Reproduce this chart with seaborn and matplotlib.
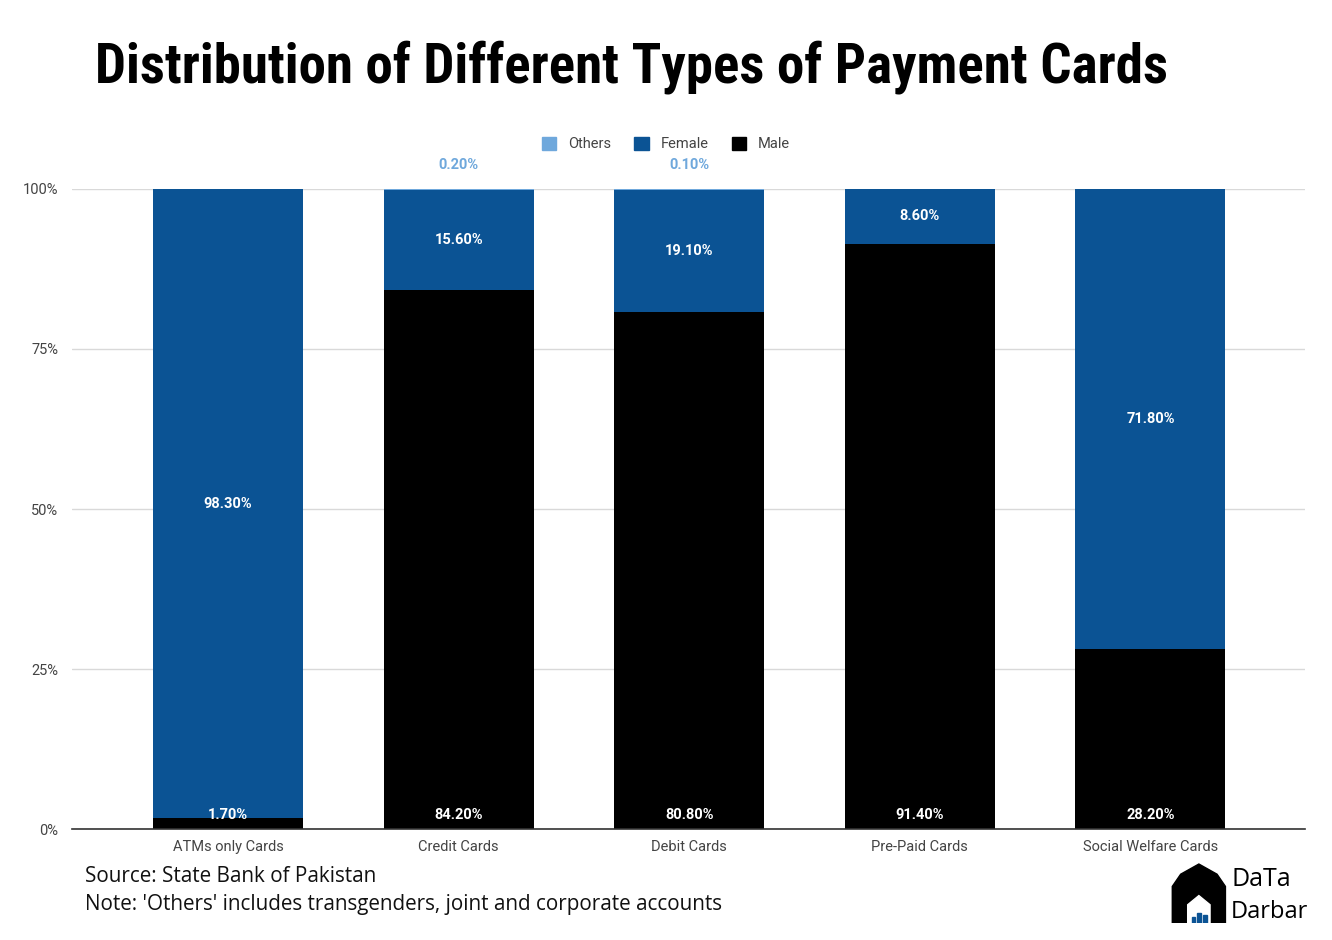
import pandas as pd
import matplotlib.pyplot as plt
import matplotlib.patches as mpatches
import matplotlib.transforms as mtransforms
import seaborn as sns

# chart values
categories = ['ATMs only Cards', 'Credit Cards', 'Debit Cards', 'Pre-Paid Cards', 'Social Welfare Cards']
male = [1.7, 84.2, 80.8, 91.4, 28.2]
female = [98.3, 15.6, 19.1, 8.6, 71.8]
others = [0.0, 0.2, 0.1, 0.0, 0.0]
y_ticks = [0, 25, 50, 75, 100]
y_tick_labels = ['0%', '25%', '50%', '75%', '100%']

df = pd.DataFrame({'Category': categories, 'Male': male, 'Female': female, 'Others': others})
df['MaleTop'] = df['Male']
df['FemaleTop'] = df['Male'] + df['Female']
df['OthersTop'] = df['FemaleTop'] + df['Others']

c_others = '#6fa8dc'
c_female = '#0b5394'
c_male = '#000000'

sns.set_theme(style='white')
plt.rcParams['font.family'] = ['Roboto', 'DejaVu Sans']

fig = plt.figure(figsize=(13.32, 9.40), dpi=100)
ax = fig.add_axes([0.054, 0.118, 0.926, 0.681])

# stacked bars: draw cumulative totals from the top segment down
sns.barplot(data=df, x='Category', y='OthersTop', color=c_others, width=0.65, saturation=1, ax=ax, zorder=2)
sns.barplot(data=df, x='Category', y='FemaleTop', color=c_female, width=0.65, saturation=1, ax=ax, zorder=3)
sns.barplot(data=df, x='Category', y='MaleTop', color=c_male, width=0.65, saturation=1, ax=ax, zorder=4)
for p in ax.patches:
    p.set_edgecolor('none')

ax.set_xlim(-0.677, 4.672)
ax.set_ylim(0, 100)
ax.set_yticks(y_ticks)
ax.set_yticklabels(y_tick_labels)
ax.yaxis.grid(True, color='#d9d9d9', linewidth=1, zorder=0)
ax.set_axisbelow(True)
for s in ['top', 'right', 'left']:
    ax.spines[s].set_visible(False)
ax.spines['bottom'].set_color('#333333')
ax.spines['bottom'].set_linewidth(1.2)
ax.spines['bottom'].set_zorder(6)
ax.tick_params(axis='both', length=0, labelsize=10.5, colors='#444444')
ax.tick_params(axis='x', pad=8)
ax.tick_params(axis='y', pad=10)
ax.set_xlabel('')
ax.set_ylabel('')

# value labels
up = mtransforms.ScaledTranslation(0, 5 / 72, fig.dpi_scale_trans)
for i, row in df.iterrows():
    ax.text(i, 0, f"{row['Male']:.2f}%", ha='center', va='bottom', color='white',
            fontsize=10.5, fontweight='bold', zorder=7, transform=ax.transData + up)
    ax.text(i, row['Male'] + row['Female'] / 2, f"{row['Female']:.2f}%", ha='center', va='center',
            color='white', fontsize=10.5, fontweight='bold', zorder=7)
    if row['Others'] > 0:
        ax.annotate(f"{row['Others']:.2f}%", (i, row['OthersTop']), xytext=(0, 17),
                    textcoords='offset points', ha='center', va='center',
                    color=c_others, fontsize=10.5, fontweight='bold', annotation_clip=False)

# legend
handles = [mpatches.Patch(color=c_others, label='Others'),
           mpatches.Patch(color=c_female, label='Female'),
           mpatches.Patch(color=c_male, label='Male')]
fig.legend(handles=handles, loc='center', bbox_to_anchor=(0.5, 0.847), ncol=3, frameon=False,
           fontsize=10.5, handlelength=1.0, handleheight=1.0, handletextpad=0.8, columnspacing=1.6,
           labelcolor='#444444')

# title
fig.text(0.071, 0.929, 'Distribution of Different Types of Payment Cards', ha='left', va='center',
         fontsize=39.5, fontweight='heavy', color='black',
         family=['Roboto Condensed', 'Liberation Sans Narrow', 'Roboto', 'DejaVu Sans'])

# footnotes
fig.text(0.064, 0.068, 'Source: State Bank of Pakistan', ha='left', va='center',
         fontsize=14.9, color='#111111', family=['Open Sans', 'DejaVu Sans'])
fig.text(0.064, 0.038, "Note: 'Others' includes transgenders, joint and corporate accounts", ha='left',
         va='center', fontsize=14.9, color='#111111', family=['Open Sans', 'DejaVu Sans'])

# logo
lax = fig.add_axes([0.878, 0.018, 0.105, 0.065])
lax.set_xlim(0, 10)
lax.set_ylim(0, 6)
lax.axis('off')
dome = mpatches.Polygon([(0.2, 0), (0.2, 3.6), (0.8, 4.8), (2.1, 5.8), (3.4, 4.8), (4.0, 3.6), (4.0, 0)],
                        closed=True, color='black')
lax.add_patch(dome)
lax.add_patch(mpatches.Polygon([(1.3, 0), (1.3, 1.8), (2.1, 2.7), (2.9, 1.8), (2.9, 0)], closed=True, color='white'))
for k, h in enumerate([0.6, 1.0, 0.8]):
    lax.add_patch(mpatches.Rectangle((1.6 + k * 0.4, 0), 0.25, h, color=c_female))
lax.text(4.4, 4.3, 'DaTa', fontsize=18, ha='left', va='center', color='black', family=['Open Sans', 'DejaVu Sans'])
lax.text(4.4, 1.1, 'Darbar', fontsize=17, ha='left', va='center', color='black', family=['Open Sans', 'DejaVu Sans'])

fig.savefig('out.png', dpi=100, facecolor='white')
